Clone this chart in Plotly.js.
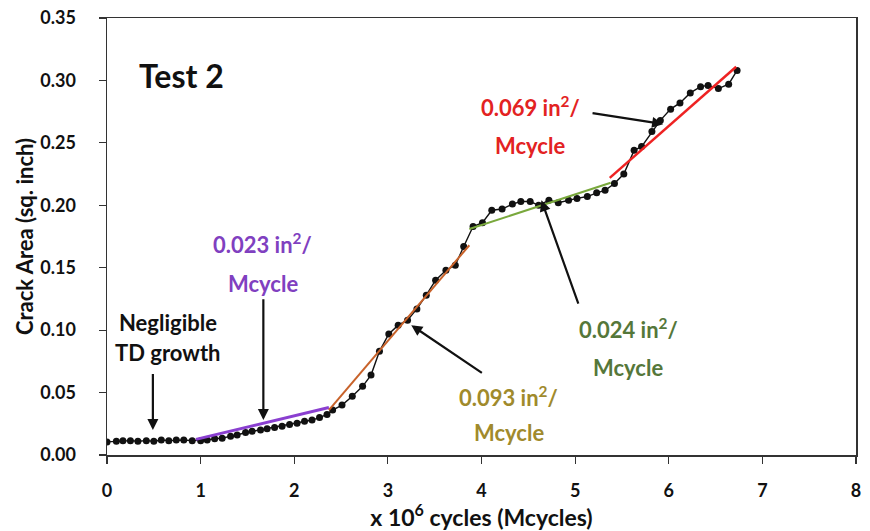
<!DOCTYPE html>
<html>
<head>
<meta charset="utf-8">
<script src="https://cdn.plot.ly/plotly-3.0.1.min.js"></script>
<style>html,body{margin:0;padding:0;background:#fff}#chart{width:870px;height:531px}</style>
</head>
<body>
<div id="chart"></div>
<script>
// Measured crack area data (Test 2)
var cycles = [0, 0.10, 0.17, 0.25, 0.33, 0.42, 0.50, 0.58, 0.66, 0.74, 0.82, 0.91,
  1.00, 1.07, 1.15, 1.23, 1.32, 1.39, 1.48, 1.55, 1.64, 1.71, 1.79, 1.87, 1.95,
  2.03, 2.11, 2.19, 2.27, 2.35, 2.41, 2.51, 2.62, 2.73, 2.82, 2.91, 3.01, 3.11,
  3.21, 3.31, 3.41, 3.51, 3.62, 3.72, 3.81, 3.91, 4.01, 4.11, 4.22, 4.33, 4.42,
  4.52, 4.61, 4.72, 4.82, 4.93, 5.02, 5.13, 5.23, 5.32, 5.42, 5.52, 5.63, 5.71,
  5.82, 5.91, 6.02, 6.12, 6.23, 6.34, 6.42, 6.53, 6.64, 6.73];
var crackArea = [0.0105, 0.011, 0.0115, 0.0115, 0.011, 0.0115, 0.011, 0.012, 0.0115, 0.012, 0.012, 0.0115,
  0.0115, 0.012, 0.013, 0.0135, 0.015, 0.016, 0.018, 0.019, 0.020, 0.021, 0.022, 0.023, 0.0245,
  0.0255, 0.027, 0.028, 0.030, 0.0325, 0.036, 0.040, 0.047, 0.055, 0.064, 0.083, 0.097, 0.104,
  0.108, 0.117, 0.128, 0.140, 0.148, 0.152, 0.167, 0.183, 0.186, 0.196, 0.197, 0.201, 0.203,
  0.203, 0.200, 0.204, 0.202, 0.204, 0.2055, 0.207, 0.210, 0.212, 0.2175, 0.225, 0.244, 0.247,
  0.259, 0.268, 0.277, 0.282, 0.290, 0.295, 0.296, 0.2935, 0.297, 0.308];

// Fitted linear segments (endpoints)
var fit1X = [0.95, 2.37], fit1Y = [0.0125, 0.038];   // 0.023 in2/Mcycle
var fit2X = [2.37, 3.87], fit2Y = [0.036, 0.168];    // 0.093 in2/Mcycle
var fit3X = [3.87, 5.38], fit3Y = [0.181, 0.218];    // 0.024 in2/Mcycle
var fit4X = [5.37, 6.72], fit4Y = [0.222, 0.311];    // 0.069 in2/Mcycle

var xTicks = [0, 1, 2, 3, 4, 5, 6, 7, 8];
var yTicks = [0, 0.05, 0.10, 0.15, 0.20, 0.25, 0.30, 0.35];

var FONT = 'Lato, "Open Sans", sans-serif';

var traces = [
  {x: cycles, y: crackArea, mode: 'lines+markers', type: 'scatter',
   line: {color: '#111', width: 1.4}, marker: {color: '#111', size: 7}},
  {x: fit1X, y: fit1Y, mode: 'lines', line: {color: '#8a3fd0', width: 3}},
  {x: fit2X, y: fit2Y, mode: 'lines', line: {color: '#c8622a', width: 2}},
  {x: fit3X, y: fit3Y, mode: 'lines', line: {color: '#79a83c', width: 2}},
  {x: fit4X, y: fit4Y, mode: 'lines', line: {color: '#ee2222', width: 2.5}}
];

function label(x, y, text, color, size) {
  return {x: x, y: y, xref: 'x', yref: 'y', text: text, showarrow: false,
    font: {family: FONT, size: size || 22, color: color, weight: 'bold'}, align: 'center'};
}
function arrow(x0, y0, x1, y1) {
  return {x: x1, y: y1, ax: x0, ay: y0, xref: 'x', yref: 'y', axref: 'x', ayref: 'y',
    text: '', showarrow: true, arrowhead: 2, arrowsize: 1, arrowwidth: 2.2, arrowcolor: '#111'};
}

var annotations = [
  label(0.80, 0.304, 'Test 2', '#111', 32),
  label(0.65, 0.1065, 'Negligible', '#111'),
  label(0.65, 0.0817, 'TD growth', '#111'),
  arrow(0.49, 0.066, 0.49, 0.020),
  label(1.664, 0.169, '0.023 in<sup>2</sup>/', '#8040c0'),
  label(1.664, 0.1377, 'Mcycle', '#8040c0'),
  arrow(1.67, 0.126, 1.67, 0.028),
  label(4.29, 0.0466, '0.093 in<sup>2</sup>/', '#a08a2c'),
  label(4.29, 0.0184, 'Mcycle', '#a08a2c'),
  arrow(4.02, 0.065, 3.25, 0.104),
  label(5.57, 0.101, '0.024 in<sup>2</sup>/', '#55773a'),
  label(5.57, 0.0697, 'Mcycle', '#55773a'),
  arrow(5.04, 0.120, 4.64, 0.204),
  label(4.52, 0.279, '0.069 in<sup>2</sup>/', '#e32222'),
  label(4.52, 0.248, 'Mcycle', '#e32222'),
  arrow(5.17, 0.274, 5.94, 0.265)
];

var axisCommon = {
  showgrid: false, zeroline: false, showline: true, linecolor: '#333', linewidth: 1.5,
  mirror: true, ticks: 'outside', ticklen: 7, tickwidth: 1.2, tickcolor: '#333',
  tickfont: {family: FONT, size: 18, color: '#111', weight: 'bold'}
};

var layout = {
  width: 870, height: 531,
  margin: {l: 107, r: 14, t: 18, b: 76},
  paper_bgcolor: '#fff', plot_bgcolor: '#fff',
  showlegend: false,
  xaxis: Object.assign({}, axisCommon, {
    range: [0, 8], tickvals: xTicks, ticktext: xTicks.map(String),
    ticklabelstandoff: 12,
    title: {text: 'x 10<sup>6</sup> cycles (Mcycles)', standoff: 0,
      font: {family: FONT, size: 23, color: '#111', weight: 'bold'}}
  }),
  yaxis: Object.assign({}, axisCommon, {
    range: [0, 0.35], tickvals: yTicks, ticktext: yTicks.map(function(v){return v.toFixed(2);}),
    ticklabelstandoff: 19,
    title: {text: 'Crack Area (sq. inch)', standoff: 0,
      font: {family: FONT, size: 22, color: '#111', weight: 'bold'}}
  }),
  annotations: annotations
};

Plotly.newPlot('chart', traces, layout, {staticPlot: true, displayModeBar: false});
</script>
</body>
</html>
